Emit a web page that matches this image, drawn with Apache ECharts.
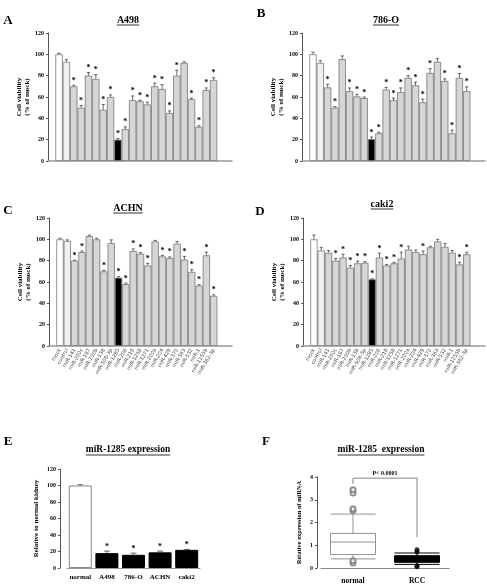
<!DOCTYPE html>
<html>
<head>
<meta charset="utf-8">
<script src="https://cdn.jsdelivr.net/npm/echarts@6.0.0/dist/echarts.min.js"></script>
<style>
  html, body { margin: 0; padding: 0; background: #fff; }
  #chart { width: 487px; height: 587px; }
</style>
</head>
<body>
<div id="chart"></div>
<script>
// miRNA transfectants (same order in A-D)
var mirnas = ['mock', 'control', 'miR-141', 'miR-200c', 'miR-187', 'miR-200b', 'miR-138',
  'miR-508-3p', 'miR-1285', 'miR-206', 'miR-218', 'miR-1258', 'miR-1271', 'miR-200a',
  'miR-204', 'miR-429', 'miR-370', 'miR-363', 'miR-532', 'miR-1', 'miR-1255b', 'miR-362-3p'];

// cell viability (% of mock), error and significance star
var a498 = [100, 93, 70, 50, 80, 77, 48, 60, 20, 30, 57, 56, 53, 70, 67.5, 45, 80, 92, 58, 32, 66.5, 76];
var a498Err = [1, 2, 1, 2, 3, 4, 5, 2, 1, 2, 4, 1, 2, 3, 4, 2, 5, 1, 1, 1, 2, 2];
var a498Star = [0, 0, 1, 1, 1, 1, 1, 1, 1, 1, 1, 1, 1, 1, 1, 1, 1, 0, 1, 1, 1, 1];

var o786 = [100, 92, 69, 50, 95.5, 65.5, 60.5, 59, 20.5, 26, 67, 57, 64.5, 78, 71, 55, 82.5, 93, 75, 26, 78, 65.5];
var o786Err = [2, 2, 3, 1, 3, 3, 2, 1, 2, 1, 2, 2, 4, 2, 3, 3, 4, 3, 2, 3, 4, 4];
var o786Star = [0, 0, 1, 1, 0, 1, 1, 1, 1, 1, 1, 1, 1, 1, 1, 1, 1, 0, 1, 1, 1, 1];

var achn = [100, 98.5, 80, 88, 103, 100, 70, 96.5, 64, 58, 89, 86.5, 75.5, 98, 84, 82.5, 96, 81, 69.5, 56.5, 85, 47];
var achnErr = [1, 1, 0.5, 1, 1, 1, 1, 3, 1, 1, 2, 1, 2, 1, 1, 1, 2, 3, 2, 1, 3, 1];
var achnStar = [0, 0, 1, 1, 0, 0, 1, 0, 1, 1, 1, 1, 1, 0, 1, 1, 0, 1, 1, 1, 1, 1];

var caki2 = [100, 89.5, 87.5, 80, 83, 73.5, 77.5, 78, 62.5, 83, 75.5, 77.5, 82, 90.5, 88, 86, 92.5, 98, 93, 87.5, 76.5, 86];
var caki2Err = [4, 3, 2, 2, 3, 2, 2, 1, 0.5, 4, 1, 1, 6, 3, 2, 3, 1, 2, 3, 2, 2, 2];
var caki2Star = [0, 0, 0, 1, 1, 1, 1, 1, 1, 1, 1, 1, 1, 0, 0, 1, 0, 0, 0, 0, 1, 1];

// E: miR-1285 expression in cell lines
var lines = ['normal', 'A498', '786-O', 'ACHN', 'caki2'];
var lineExpr = [100, 18, 16, 19, 22];
var lineErr = [1, 2.5, 2, 1.5, 0.5];
var lineStar = [0, 1, 1, 1, 1];

// F: clinical samples boxplot [min, Q1, median, Q3, max]
var groups = ['normal', 'RCC'];
var normalBox = [0.4, 0.59, 1.14, 1.52, 2.37];
var rccBox = [0.16, 0.25, 0.4, 0.54, 0.66];
var normalOut = [0.22, 0.32, 2.53, 2.6, 3.3, 3.44];
var rccOut = [0.05, 0.1, 0.7, 0.8];
var pBracket = [[0, 3.7], [0, 3.95], [1, 3.95], [1, 1.35]];
var pText = 'P< 0.0001';

var serif = 'Liberation Serif';
var barColors = ['#ffffff', '#f0f0f0'];
function barColor(i) {
  if (i < 2) return barColors[i];
  if (mirnas[i] === 'miR-1285') return '#000';
  return '#d6d6d6';
}

function errRender(params, api) {
  var x = api.value(0), v = api.value(1), e = api.value(2), s = api.value(3);
  var base = api.coord([x, v]);
  var top = api.coord([x, v + e]);
  var w = Math.min(api.size([1, 0])[0] * 0.22, 3);
  var kids = [
    { type: 'line', shape: { x1: base[0], y1: base[1], x2: top[0], y2: top[1] }, style: { stroke: '#444', lineWidth: 0.8 } },
    { type: 'line', shape: { x1: top[0] - w, y1: top[1], x2: top[0] + w, y2: top[1] }, style: { stroke: '#444', lineWidth: 0.8 } }
  ];
  if (s) {
    kids.push({ type: 'text', style: { text: '*', x: top[0], y: top[1] - 0.5, align: 'center', verticalAlign: 'bottom',
      font: 'bold 8px "' + serif + '"', fill: '#000' } });
  }
  return { type: 'group', children: kids };
}

function bracketRender(params, api) {
  var i = params.dataIndex;
  if (i === 0) return null;
  var prev = api.coord(pBracket[i - 1]);
  var cur = api.coord([api.value(0), api.value(1)]);
  var kids = [{ type: 'line', shape: { x1: prev[0], y1: prev[1], x2: cur[0], y2: cur[1] }, style: { stroke: '#666', lineWidth: 0.8 } }];
  if (i === 2) {
    kids.push({ type: 'text', style: { text: pText, x: (prev[0] + cur[0]) / 2, y: cur[1] - 1.5, align: 'center', verticalAlign: 'bottom',
      font: 'bold 6px "' + serif + '"', fill: '#000' } });
  }
  return { type: 'group', children: kids };
}

var grids = [
  { left: 48, top: 33, width: 184, height: 128 },
  { left: 302, top: 33, width: 183, height: 128 },
  { left: 49, top: 218, width: 183, height: 128 },
  { left: 303, top: 218, width: 182, height: 128 },
  { left: 67, top: 469, width: 133, height: 99 },
  { left: 321, top: 477, width: 128, height: 91 }
];

var xAxes = [], yAxes = [], series = [];
var panels = [[a498, a498Err, a498Star, false], [o786, o786Err, o786Star, false],
  [achn, achnErr, achnStar, true], [caki2, caki2Err, caki2Star, true]];

var padCats = [''].concat(mirnas, ['', '']);

panels.forEach(function (p, g) {
  xAxes.push({
    type: 'category', gridIndex: g, data: padCats,
    axisLine: { lineStyle: { color: '#999', width: 1.5 } },
    axisTick: { show: false },
    axisLabel: { show: p[3], interval: 0, rotate: 60, fontSize: 5, color: '#444', fontFamily: 'DejaVu Sans', margin: 3 }
  });
  yAxes.push({
    type: 'value', gridIndex: g, min: 0, max: 120, interval: 20,
    name: 'Cell viability\n(% of mock)', nameLocation: 'middle', nameGap: 16,
    nameTextStyle: { fontFamily: serif, fontWeight: 'bold', fontSize: 7, color: '#000', lineHeight: 8 },
    axisLine: { show: true, lineStyle: { color: '#555', width: 1 } },
    axisTick: { show: true, length: 2, lineStyle: { color: '#555' } },
    splitLine: { show: false },
    axisLabel: { fontFamily: serif, fontWeight: 'bold', fontSize: 6, color: '#000', margin: 4 }
  });
  var vals = p[0];
  series.push({
    type: 'bar', xAxisIndex: g, yAxisIndex: g, barCategoryGap: '0%',
    data: [null].concat(vals.map(function (v, i) {
      return { value: v, itemStyle: { color: barColor(i) } };
    })),
    itemStyle: { borderColor: '#777', borderWidth: 0.8 },
    silent: true
  });
  series.push({
    type: 'custom', xAxisIndex: g, yAxisIndex: g, renderItem: errRender, silent: true,
    data: vals.map(function (v, i) { return [i + 1, v, p[1][i], p[2][i]]; }),
    z: 5
  });
});

// E
xAxes.push({
  type: 'category', gridIndex: 4, data: lines,
  axisLine: { lineStyle: { color: '#999', width: 1.2 } },
  axisTick: { show: false },
  axisLabel: { interval: 0, fontFamily: serif, fontWeight: 'bold', fontSize: 7, color: '#000', margin: 6 }
});
yAxes.push({
  type: 'value', gridIndex: 4, min: 0, max: 120, interval: 20, offset: 7,
  name: 'Relative to normal kidney', nameLocation: 'middle', nameGap: 20,
  nameTextStyle: { fontFamily: serif, fontWeight: 'bold', fontSize: 7, color: '#000' },
  axisLine: { show: true, lineStyle: { color: '#555' } },
  axisTick: { show: true, length: 2, lineStyle: { color: '#555' } },
  splitLine: { show: false },
  axisLabel: { fontFamily: serif, fontWeight: 'bold', fontSize: 6, color: '#000', margin: 4 }
});
series.push({
  type: 'bar', xAxisIndex: 4, yAxisIndex: 4, barWidth: 23, silent: true,
  data: lineExpr.map(function (v, i) {
    return { value: v, itemStyle: { color: i === 0 ? '#fff' : '#000', borderColor: i === 0 ? '#888' : '#000', borderWidth: 1 } };
  })
});
series.push({
  type: 'custom', xAxisIndex: 4, yAxisIndex: 4, renderItem: errRender, silent: true, z: 5,
  data: lineExpr.map(function (v, i) { return [i, v, lineErr[i], lineStar[i]]; })
});

// F
xAxes.push({
  type: 'category', gridIndex: 5, data: groups,
  axisLine: { lineStyle: { color: '#888', width: 1.2 } },
  axisTick: { show: false },
  axisLabel: { interval: 0, fontFamily: serif, fontWeight: 'bold', fontSize: 7.5, color: '#000', margin: 9 }
});
yAxes.push({
  type: 'value', gridIndex: 5, min: 0, max: 4, interval: 1, offset: 4,
  name: 'Relative expression of miRNA', nameLocation: 'middle', nameGap: 14,
  nameTextStyle: { fontFamily: serif, fontWeight: 'bold', fontSize: 6.5, color: '#000' },
  axisLine: { show: true, lineStyle: { color: '#555' } },
  axisTick: { show: true, length: 2, lineStyle: { color: '#555' } },
  splitLine: { show: false },
  axisLabel: { fontFamily: serif, fontWeight: 'bold', fontSize: 6, color: '#000', margin: 4 }
});
series.push({
  type: 'boxplot', xAxisIndex: 5, yAxisIndex: 5, boxWidth: [45, 45], silent: true,
  data: [
    { value: normalBox, itemStyle: { color: '#fff', borderColor: '#777', borderWidth: 0.8 } },
    { value: rccBox, itemStyle: { color: '#000', borderColor: '#000', borderWidth: 1 } }
  ]
});
series.push({
  type: 'scatter', xAxisIndex: 5, yAxisIndex: 5, symbol: 'emptyCircle', symbolSize: 5, silent: true,
  itemStyle: { color: '#777', borderColor: '#777', borderWidth: 0.8 },
  data: normalOut.map(function (v) { return [0, v]; })
});
series.push({
  type: 'scatter', xAxisIndex: 5, yAxisIndex: 5, symbol: 'circle', symbolSize: 5, silent: true,
  itemStyle: { color: '#000' },
  data: rccOut.map(function (v) { return [1, v]; })
});
series.push({
  type: 'custom', xAxisIndex: 5, yAxisIndex: 5, renderItem: bracketRender, silent: true,
  data: pBracket
});

// panel letters and underlined titles
var titles = [
  ['A', 8, 21, 'A498', 128, 20],
  ['B', 261, 14, '786-O', 386, 20],
  ['C', 8, 211, 'ACHN', 128, 208],
  ['D', 260, 212, 'caki2', 382, 204],
  ['E', 8, 442, 'miR-1285 expression', 128, 450],
  ['F', 266, 442, 'miR-1285  expression', 381, 450]
];
var graphic = [];
var measure = document.createElement('canvas').getContext('2d');
titles.forEach(function (t) {
  graphic.push({ type: 'text', x: t[1], y: t[2], style: { text: t[0], font: 'bold 13px "' + serif + '"', fill: '#000',
    align: 'center', verticalAlign: 'middle' } });
  var font = (t[3].length > 6 ? 'bold 9.5px "' : 'bold 10px "') + serif + '"';
  graphic.push({ type: 'text', x: t[4], y: t[5], style: { text: t[3], font: font, fill: '#000', align: 'center', verticalAlign: 'middle' } });
  measure.font = font;
  var w = measure.measureText(t[3]).width;
  graphic.push({ type: 'line', shape: { x1: t[4] - w / 2, y1: t[5] + 5, x2: t[4] + w / 2, y2: t[5] + 5 }, style: { stroke: '#000', lineWidth: 0.8 } });
});

var chart = echarts.init(document.getElementById('chart'), null, { renderer: 'canvas' });
chart.setOption({
  animation: false,
  backgroundColor: '#fff',
  grid: grids,
  xAxis: xAxes,
  yAxis: yAxes,
  series: series,
  graphic: graphic
});
</script>
</body>
</html>
